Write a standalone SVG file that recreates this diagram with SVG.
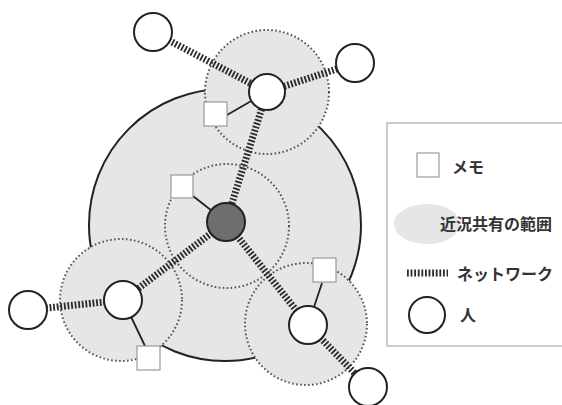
<svg xmlns="http://www.w3.org/2000/svg" width="562" height="405" viewBox="0 0 562 405">
<style>
.range{fill:#e6e6e6;stroke:none}
.rangeEdge{fill:none;stroke:#555;stroke-width:2;stroke-dasharray:1.6 2.4}
.net{stroke:#2a2a2a;stroke-width:7;stroke-dasharray:1.8 1.8;fill:none}
.link{stroke:#222;stroke-width:1.8}
.memo{fill:#fff;stroke:#999;stroke-width:1.2}
.person{fill:#fff;stroke:#222;stroke-width:2}
.lbl{font-family:"Noto Sans CJK JP","Noto Sans",sans-serif;font-size:16px;font-weight:bold;fill:#333;dominant-baseline:central}
</style>
<rect width="562" height="405" fill="#fff"/>
<g id="community">
<circle cx="225" cy="225" r="136" fill="#e6e6e6" stroke="#222" stroke-width="2"/>
</g>
<g id="ranges">
<circle class="range" cx="267" cy="92" r="62"/>
<circle class="range" cx="227" cy="226" r="62"/>
<circle class="range" cx="121" cy="300" r="61"/>
<circle class="range" cx="306" cy="324" r="61"/>
<circle class="rangeEdge" cx="267" cy="92" r="62"/>
<circle class="rangeEdge" cx="227" cy="226" r="62"/>
<circle class="rangeEdge" cx="121" cy="300" r="61"/>
<circle class="rangeEdge" cx="306" cy="324" r="61"/>
</g>
<g id="connectors">
<line class="net" x1="153" y1="32" x2="267" y2="92"/>
<line class="net" x1="267" y1="92" x2="355" y2="63"/>
<line class="net" x1="267" y1="92" x2="226" y2="222"/>
<line class="net" x1="226" y1="222" x2="123" y2="300"/>
<line class="net" x1="123" y1="300" x2="28" y2="310"/>
<line class="net" x1="226" y1="222" x2="308" y2="325"/>
<line class="net" x1="308" y1="325" x2="368" y2="387"/>
<line class="link" x1="227" y1="115" x2="267" y2="92"/>
<line class="link" x1="193" y1="196" x2="226" y2="222"/>
<line class="link" x1="123" y1="300" x2="145" y2="346"/>
<line class="link" x1="322" y1="283" x2="308" y2="325"/>
</g>
<g id="memo-top"><rect class="memo" x="204" y="102" width="23" height="24"/></g>
<g id="memo-center"><rect class="memo" x="171" y="175" width="22" height="23"/></g>
<g id="memo-left"><rect class="memo" x="137" y="346" width="23" height="24"/></g>
<g id="memo-right"><rect class="memo" x="313" y="258" width="23" height="24"/></g>
<g id="person-top"><circle class="person" cx="267" cy="92" r="18"/></g>
<g id="person-topleft"><circle class="person" cx="153" cy="32" r="19"/></g>
<g id="person-topright"><circle class="person" cx="355" cy="63" r="19"/></g>
<g id="person-center"><circle cx="226" cy="222" r="19" fill="#6e6e6e" stroke="#222" stroke-width="2"/></g>
<g id="person-left"><circle class="person" cx="123" cy="300" r="19"/></g>
<g id="person-farleft"><circle class="person" cx="28" cy="310" r="19"/></g>
<g id="person-right"><circle class="person" cx="308" cy="325" r="19"/></g>
<g id="person-farright"><circle class="person" cx="368" cy="387" r="19"/></g>
<g id="legend">
<rect x="387" y="123" width="190" height="223" fill="#fff" stroke="#aaa" stroke-width="1.2"/>
<rect class="memo" x="417" y="153" width="22" height="24"/>
<text class="lbl" x="452" y="166">メモ</text>
<ellipse cx="427" cy="224" rx="33" ry="20" fill="#e6e6e6"/>
<text class="lbl" x="440" y="223">近況共有の範囲</text>
<line class="net" x1="407" y1="273" x2="448" y2="273" stroke-width="5"/>
<text class="lbl" x="457" y="273">ネットワーク</text>
<circle class="person" cx="427" cy="315" r="18"/>
<text class="lbl" x="460" y="314">人</text>
</g>
</svg>
